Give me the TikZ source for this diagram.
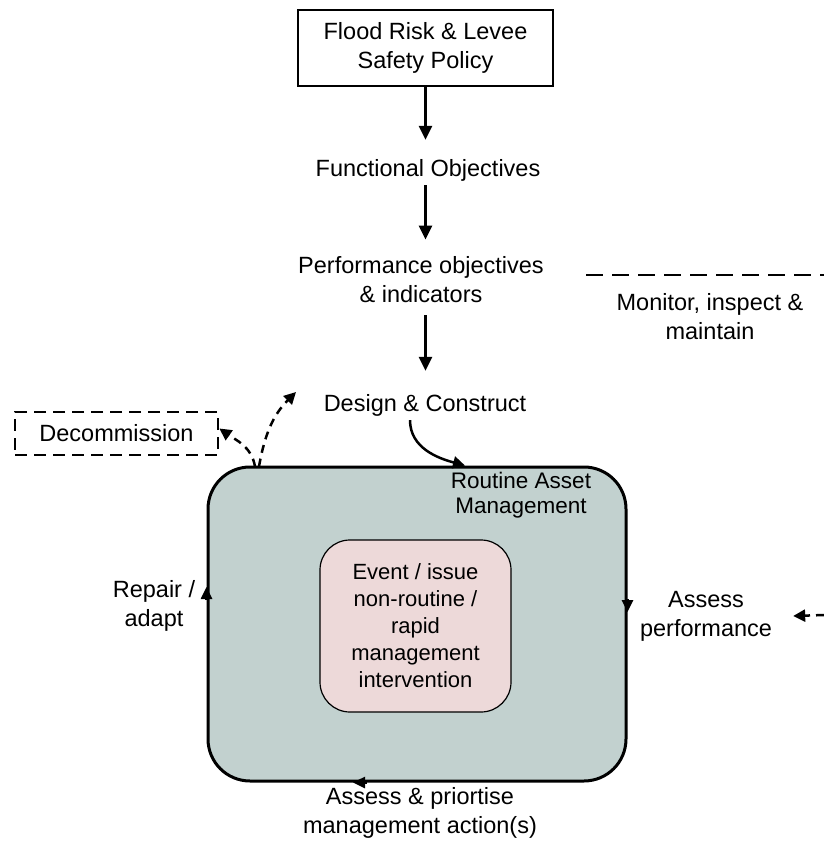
\documentclass[tikz,border=0pt]{standalone}
\usepackage{fontspec}
\setmainfont{Liberation Sans}
\usetikzlibrary{arrows.meta,calc}
\definecolor{ramfill}{RGB}{194,209,207}
\definecolor{evfill}{RGB}{237,217,217}
\begin{document}
\begin{tikzpicture}[x=1pt,y=-1pt,
  txt/.style={font=\fontsize{23.5}{29}\selectfont, align=center, inner sep=0pt},
  arr/.style={line width=2.7pt, -{Triangle[width=13pt,length=14pt]}},
  darr/.style={line width=2.5pt, dash pattern=on 8pt off 6pt, -{Triangle[width=12pt,length=12pt]}},
  edgearr/.style={line width=2.5pt, -{Triangle[width=11pt,length=12pt]}}
]
\useasboundingbox (0,0) rectangle (824,841);

\node[draw, line width=2.8pt, minimum width=255pt, minimum height=76pt, txt] (policy) at (425.5,48) {Flood Risk \& Levee\\Safety Policy};
\node[txt] (func) at (428,170) {Functional Objectives};
\node[txt] (perf) at (421,280) {Performance objectives\\\& indicators};
\node[txt] (design) at (425,405) {Design \& Construct};
\node[draw, line width=2.8pt, dash pattern=on 12pt off 7pt, minimum width=203pt, minimum height=43pt, txt] (decom) at (116.5,433.5) {Decommission};
\node[txt] (monitor) at (710,317) {Monitor, inspect \&\\maintain};
\coordinate (mstart) at (586,275);
\coordinate (mend) at (824,275);
\draw[line width=2.8pt, dash pattern=on 17pt off 9pt] (mstart) -- (mend);

\node[draw, line width=3pt, fill=ramfill, rounded corners=42pt, minimum width=418pt, minimum height=314pt] (ram) at (417,624) {};
\node[txt, font=\fontsize{22.5}{25}\selectfont] (ramlabel) at (521,495) {Routine Asset\\Management};
\node[draw, line width=1.2pt, fill=evfill, rounded corners=30pt, minimum width=191pt, minimum height=172pt, txt, font=\fontsize{22}{27}\selectfont] (event) at (415.5,626) {Event / issue\\non-routine /\\rapid\\management\\intervention};

\node[txt] (assess) at (706,616) {Assess\\performance};
\node[txt] (repair) at (154,606) {Repair /\\adapt};
\node[txt] (prior) at (420,813) {Assess \& priortise\\management action(s)};

\draw[arr] (policy.south) -- ([yshift=19pt]policy.south |- func.north);
\draw[arr] ([yshift=-4pt]policy.south |- func.south) -- ([yshift=17pt]policy.south |- perf.north);
\draw[arr] ([yshift=-12pt]policy.south |- perf.south) -- ([yshift=23pt]policy.south |- design.north);

\draw[line width=2.5pt, -{Triangle[width=12pt,length=12pt]}] ([xshift=-15pt,yshift=-4pt]design.south) to[out=-90,in=165] ([xshift=48pt]ram.north);

\coordinate (dup) at (296,392);
\draw[darr] ([xshift=-162pt,yshift=-1pt]ram.north) to[out=100,in=-35] ([yshift=5pt]decom.east);
\draw[darr] ([xshift=-158pt,yshift=-1pt]ram.north) to[out=80,in=225] (dup);

\draw[edgearr] ([yshift=24pt]ram.west) -- ([yshift=37pt]ram.west);
\draw[edgearr] ([yshift=25pt]ram.east) -- ([yshift=12pt]ram.east);
\draw[edgearr] ([xshift=-50pt]ram.south) -- ([xshift=-64pt]ram.south);

\coordinate (rin) at (824,615);
\draw[darr] (rin) -- ([xshift=21pt]assess.east);
\end{tikzpicture}
\end{document}
